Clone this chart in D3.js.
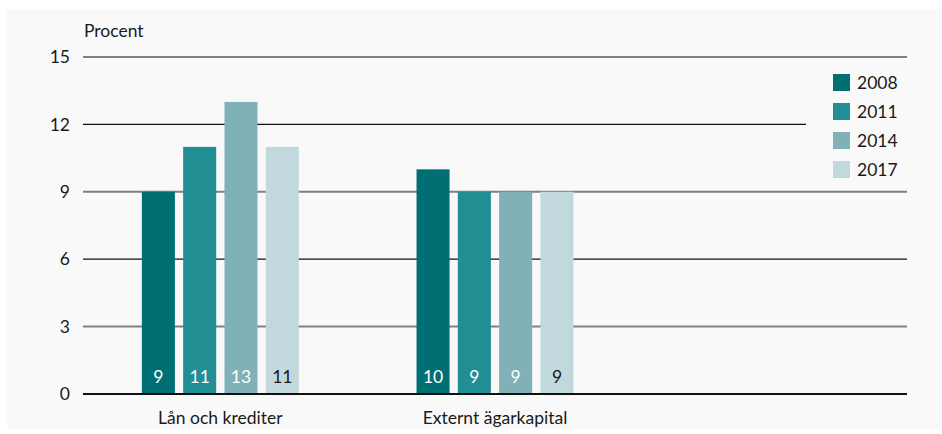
<!DOCTYPE html>
<html><head><meta charset="utf-8">
<script src="https://cdn.jsdelivr.net/npm/d3@7"></script>
<style>
html,body{margin:0;padding:0;background:#fff;}
text{font-family:Lato,"Open Sans",sans-serif;}
</style></head>
<body>
<svg id="chart" width="942" height="434"></svg>
<script>
const categories = ["Lån och krediter", "Externt ägarkapital", ""];
const years = ["2008", "2011", "2014", "2017"];
const values2008 = [9, 10, null];
const values2011 = [11, 9, null];
const values2014 = [13, 9, null];
const values2017 = [11, 9, null];
const yTicks = [0, 3, 6, 9, 12, 15];
const colors = ["#006f74", "#218e94", "#7fb1b7", "#c1d9dd"];
const labelColors = ["#ffffff", "#ffffff", "#ffffff", "#1a1a1a"];

const series = [values2008, values2011, values2014, values2017];

(function () {
const FS = 17.5, FW = 400;
const svg = d3.select("#chart");
svg.append("rect").attr("x", 7).attr("y", 9).attr("width", 935).attr("height", 420).attr("fill", "#f9f9f9");

const mLeft = 83, mRight = 907, mTop = 57, mBottom = 394;
const y = d3.scaleLinear().domain([0, 15]).range([mBottom, mTop]);
const x0 = d3.scaleBand().domain(categories).range([mLeft, mRight]).padding(0);
const x1 = d3.scaleBand().domain(years).range([0, x0.bandwidth()]).paddingInner(0.2).paddingOuter(1.425);

// gridlines
const grid = svg.append("g");
yTicks.forEach((t) => {
  const gray = (t === 3 || t === 9 || t === 15);
  grid.append("line")
    .attr("x1", mLeft).attr("x2", t === 12 ? 806 : mRight)
    .attr("y1", y(t)).attr("y2", y(t))
    .attr("stroke", t === 0 ? "#111" : (gray ? "#808080" : "#111"))
    .attr("stroke-width", t === 0 ? 2 : (gray ? 2 : 1.3));
});

// y tick labels
const yAxis = d3.axisLeft(y).tickValues(yTicks).tickSize(0).tickPadding(0);
const ya = svg.append("g").attr("transform", `translate(70,0)`).call(yAxis);
ya.select(".domain").remove();
ya.selectAll("text").attr("font-size", FS).attr("font-weight", FW).attr("fill", "#1a1a1a").attr("font-family", "Lato,'Open Sans',sans-serif");

svg.append("text").attr("x", 84).attr("y", 37).attr("font-size", FS).attr("font-weight", FW).attr("fill", "#1a1a1a").text("Procent");

// bars
categories.forEach((c, ci) => {
  series.forEach((s, si) => {
    const v = s[ci];
    if (v == null) return;
    const bx = x0(c) + x1(years[si]);
    svg.append("rect")
      .attr("x", bx).attr("y", y(v))
      .attr("width", x1.bandwidth()).attr("height", y(0) - y(v))
      .attr("fill", colors[si]);
    svg.append("text")
      .attr("x", bx + x1.bandwidth() / 2).attr("y", 383)
      .attr("text-anchor", "middle").attr("font-size", FS).attr("font-weight", FW)
      .attr("fill", labelColors[si]).text(v);
  });
});

// baseline on top
svg.append("line").attr("x1", mLeft).attr("x2", mRight).attr("y1", y(0)).attr("y2", y(0))
  .attr("stroke", "#111").attr("stroke-width", 2);

// x axis labels
const xAxis = d3.axisBottom(x0).tickSize(0).tickPadding(0);
const xa = svg.append("g").attr("transform", `translate(0,${mBottom})`).call(xAxis);
xa.select(".domain").remove();
xa.selectAll("text").attr("font-size", FS).attr("font-weight", FW).attr("fill", "#1a1a1a").attr("dy", 0).attr("y", 30)
  .attr("font-family", "Lato,'Open Sans',sans-serif");

// legend
const lg = svg.append("g");
years.forEach((yr, i) => {
  const ty = 74 + i * 29;
  lg.append("rect").attr("x", 833).attr("y", ty).attr("width", 17).attr("height", 17).attr("fill", colors[i]);
  lg.append("text").attr("x", 857).attr("y", ty + 8.5).attr("dy", "0.35em")
    .attr("font-size", FS).attr("font-weight", FW).attr("fill", "#1a1a1a").text(yr);
});
})();
</script>
</body></html>
